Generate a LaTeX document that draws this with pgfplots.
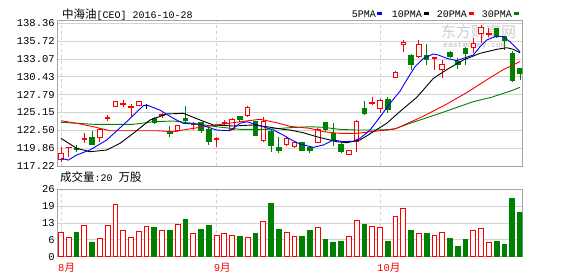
\documentclass[border=0pt]{standalone}
\usepackage{pgfplots}
\pgfplotsset{compat=1.18}
\usepackage{pgfplotstable}
\usepackage{fontspec}
\setmainfont{Liberation Mono}
\newfontfamily\cjk{Noto Sans CJK SC}
\definecolor{kred}{RGB}{255,0,0}
\definecolor{kgreen}{RGB}{0,128,0}
\definecolor{kblue}{RGB}{0,0,255}
\definecolor{gridc}{RGB}{210,210,210}
\definecolor{framec}{RGB}{165,165,165}
\definecolor{wm}{RGB}{205,205,205}

% i open high low close volume
\pgfplotstableread{
i open high low close vol
0 118.21 119.99 117.86 119.10 9.5
1 119.90 120.10 118.60 120.00 7.4
2 119.80 120.33 119.34 119.70 9.5
3 121.10 122.16 120.58 121.30 12.1
4 121.47 122.45 120.33 120.48 5.6
5 121.47 122.80 120.82 122.56 7.1
6 124.30 124.78 123.89 124.45 12.1
7 126.11 126.85 126.00 126.75 20.1
8 126.30 127.00 125.90 126.45 10.1
9 125.90 126.36 124.52 126.05 7.4
10 126.26 126.80 126.10 126.75 9.7
11 126.16 126.36 125.62 126.16 11.7
12 124.28 124.52 123.40 123.70 11.4
13 124.70 125.12 124.28 124.85 10.1
14 122.30 123.15 121.47 122.06 10.3
15 122.45 123.30 122.30 123.15 12.4
16 124.28 126.11 123.55 123.94 14.5
17 123.30 123.70 122.60 123.45 9.0
18 123.64 123.80 122.06 122.50 10.6
19 122.65 122.80 120.33 120.82 12.2
20 121.10 121.56 120.08 121.25 8.2
21 123.55 124.00 123.30 123.70 9.0
22 122.65 124.30 122.50 124.14 8.2
23 124.52 124.60 123.80 124.04 7.9
24 124.73 126.11 124.52 125.92 7.4
25 123.80 123.95 121.65 121.71 9.1
26 120.97 124.52 120.82 123.80 13.6
27 122.30 122.65 119.34 120.33 20.6
28 119.99 121.56 119.19 119.59 10.6
29 120.40 121.56 120.20 121.32 9.5
30 120.08 120.80 119.90 120.68 7.8
31 120.68 120.80 119.50 119.59 7.9
32 119.93 120.18 119.10 119.49 10.3
33 120.68 122.80 120.60 122.65 11.3
34 123.64 123.79 122.30 122.56 6.8
35 122.06 123.55 120.18 120.97 5.6
36 120.48 120.68 119.19 119.34 6.0
37 118.90 119.60 118.85 119.59 7.8
38 120.82 124.04 119.34 123.79 14.0
39 125.77 126.90 124.78 125.03 12.7
40 126.41 127.40 126.26 126.66 11.7
41 125.77 127.10 125.03 126.90 11.3
42 127.10 127.40 125.03 125.52 6.0
43 130.30 131.30 130.20 131.10 15.6
44 135.30 135.89 134.16 135.50 18.6
45 133.67 133.77 131.45 132.19 10.3
46 133.42 135.89 133.27 135.25 9.1
47 133.57 135.25 132.19 132.93 9.2
48 133.10 133.33 131.45 133.25 8.2
49 131.45 132.93 130.20 132.19 9.4
50 134.07 134.21 133.18 133.42 7.2
51 132.78 133.27 131.60 132.19 4.1
52 134.66 134.80 132.19 133.92 6.8
53 134.76 136.14 133.92 135.40 10.1
54 136.88 138.12 135.40 137.72 10.9
55 136.70 137.63 136.38 136.80 5.6
56 137.63 137.72 136.20 136.38 6.0
57 136.38 136.53 134.41 135.89 4.9
58 133.92 134.27 129.71 129.96 22.6
59 131.60 131.70 129.96 130.96 17.2
}\kdata

\pgfplotsset{
  kupw/.style={draw=kred, line width=1pt},
  kupb/.style={draw=kred, fill=white, line width=1pt},
  kdnw/.style={draw=kgreen, line width=1pt},
  kdnb/.style={draw=kgreen, fill=kgreen, line width=1pt},
  kdjw/.style={draw=black, line width=1pt},
  kdjb/.style={draw=black, line width=1pt},
  kupv/.style={ybar, bar width=4.8pt, bar shift=0pt, draw=kred, fill=white, line width=1pt},
  kdjv/.style={kupv},
  kdnv/.style={ybar, bar width=5.8pt, bar shift=0pt, draw=none, fill=kgreen},
  chart/.style={scale only axis, width=464.4pt, xmin=-0.4, xmax=59.29,
    axis line style={framec, line width=1pt}, tick style={draw=none},
    xmajorgrids, ymajorgrids,
    x grid style={gridc, dashed, line width=1pt},
    y grid style={gridc, line width=1pt},
    xtick={0,20,41},
    ticklabel style={font=\fontsize{10.5}{12}\selectfont},
    yticklabel style={anchor=east, inner sep=0pt, xshift=-3pt},
    /pgf/number format/assume math mode=true},
}

\newcommand\kclass{%
  \ifdim\kC pt<\kO pt \def\kS{dn}\else
    \ifdim\kC pt=\kO pt \def\kS{dj}\else \def\kS{up}\fi
  \fi}
\newcommand\kread{%
  \pgfplotstablegetelem{\kr}{i}\of\kdata\edef\kX{\pgfplotsretval}%
  \pgfplotstablegetelem{\kr}{open}\of\kdata\edef\kO{\pgfplotsretval}%
  \pgfplotstablegetelem{\kr}{high}\of\kdata\edef\kH{\pgfplotsretval}%
  \pgfplotstablegetelem{\kr}{low}\of\kdata\edef\kL{\pgfplotsretval}%
  \pgfplotstablegetelem{\kr}{close}\of\kdata\edef\kC{\pgfplotsretval}%
  \pgfplotstablegetelem{\kr}{vol}\of\kdata\edef\kV{\pgfplotsretval}%
  \kclass}
\newcommand\kcandles{%
  \pgfplotstablegetrowsof{\kdata}%
  \pgfmathtruncatemacro\kN{\pgfplotsretval-1}%
  \pgfplotsforeachungrouped \kr in {0,...,\kN}{%
    \kread
    \pgfmathsetmacro\kXl{\kX-0.29}%
    \pgfmathsetmacro\kXr{\kX+0.29}%
    \edef\kcmd{%
      \noexpand\addplot[k\kS w] coordinates {(\kX,\kH) (\kX,\kL)};%
      \noexpand\addplot[k\kS b] coordinates {(\kXl,\kO) (\kXr,\kO) (\kXr,\kC) (\kXl,\kC)} -- cycle;%
    }%
    \kcmd
  }%
}
\newcommand\kvolumes{%
  \pgfplotstablegetrowsof{\kdata}%
  \pgfmathtruncatemacro\kN{\pgfplotsretval-1}%
  \pgfplotsforeachungrouped \kr in {0,...,\kN}{%
    \kread
    \edef\kcmd{\noexpand\addplot[k\kS v] coordinates {(\kX,\kV)};}%
    \kcmd
  }%
}

\begin{document}
\begin{tikzpicture}
\useasboundingbox (0pt,0pt) rectangle (578pt,276pt);

% watermark
\node[anchor=west, inner sep=0pt, text=wm, font=\cjk\fontsize{15}{15}\selectfont] at (441pt,244.5pt) {东方财富网};
\node[anchor=west, inner sep=0pt, text=wm, font=\fontsize{8}{8}\selectfont\bfseries] at (443pt,230.5pt) {eastmoney.com};

% price panel
\begin{axis}[chart, at={(57.9pt,110pt)}, anchor=south west, height=145pt,
  ymin=117.22, ymax=138.71,
  xticklabels={,,},
  ytick={117.22,119.8625,122.505,125.1475,127.79,130.4325,133.075,135.7175,138.36},
  yticklabels={117.22,119.86,122.50,125.15,127.79,130.43,133.07,135.72,138.36}]
\kcandles
% 30PMA
\addplot[kgreen, line width=0.9pt] coordinates {(0,123.7) (4.16,123.4) (9.29,123.4) (11.86,123.78) (14.43,123.89) (17.87,123.4) (20.01,123.04) (23.01,122.65) (26.44,122.65) (29.43,122.9) (32.0,123.04) (33.71,122.95) (35.86,122.65) (38.0,122.55) (40.58,122.55) (42.72,122.65) (44.86,123.55) (48.72,125.03) (53.0,126.76) (55.3,127.4) (57.7,128.3) (59,128.88)};
% 20PMA
\addplot[kred, line width=0.9pt] coordinates {(0,123.93) (2.02,123.55) (4.16,123.04) (6.3,122.45) (9.29,122.45) (12.3,122.45) (14.43,122.3) (16.15,122.65) (17.87,122.95) (20.01,123.3) (23.01,123.78) (25.57,124.14) (27.72,123.64) (29.43,123.1) (32.0,122.8) (33.71,122.3) (35.86,122.06) (38.0,122.06) (39.72,122.3) (41.86,122.55) (43.14,122.8) (46.57,124.6) (49.58,126.4) (52.15,128.1) (55.14,130.3) (56.85,131.5) (59,132.7)};
% 10PMA
\addplot[black, line width=0.9pt] coordinates {(0,121.32) (2.02,119.84) (3.73,119.34) (5.87,119.59) (7.58,120.58) (9.29,122.06) (11.44,124.04) (13.59,124.93) (15.72,125.03) (17.87,124.04) (19.58,123.3) (22.15,123.15) (24.72,123.3) (26.44,123.04) (28.57,122.65) (29.43,122.55) (31.14,122.15) (32.87,121.56) (35.44,120.82) (36.72,120.67) (38.43,121.07) (40.14,122.3) (41.86,123.55) (43.57,125.3) (45.72,127.4) (46.57,128.5) (47.85,130.2) (49.58,131.5) (51.71,132.93) (53.86,133.92) (56.0,134.51) (57.29,134.75) (58.14,134.51) (59,134.01)};
% 5PMA
\addplot[kblue, line width=0.9pt] coordinates {(0,118.36) (0.94,118.1) (2.02,118.85) (3.73,119.6) (5.87,121.07) (8.44,123.78) (10.58,126.16) (11.02,126.26) (12.72,125.5) (14.43,124.29) (15.72,123.55) (17.87,123.4) (18.73,123.04) (20.01,122.55) (21.72,122.45) (23.01,123.55) (23.87,123.78) (26.0,123.04) (27.29,122.55) (28.57,121.81) (29.43,121.2) (30.72,120.48) (32.43,119.99) (33.71,120.33) (35.0,121.07) (36.29,120.82) (37.58,120.9) (38.43,121.32) (39.72,122.55) (41.0,124.5) (42.29,126.51) (43.57,128.3) (44.43,129.97) (45.5,131.94) (46.57,133.18) (47.85,133.82) (48.5,133.67) (49.58,133.18) (50.86,132.83) (51.71,133.18) (53.0,133.67) (53.86,134.9) (54.72,135.89) (56.0,136.49) (56.85,136.38) (57.71,135.64) (59.0,134.16)};
\end{axis}

% volume panel
\begin{axis}[chart, at={(57.9pt,19.3pt)}, anchor=south west, height=67.4pt,
  ymin=0, ymax=26,
  ytick={0,6.5,13,19.5,26}, yticklabels={0,6,13,19,26},
  xticklabels={{8{\cjk 月}},{9{\cjk 月}},{10{\cjk 月}}},
  xticklabel style={anchor=west, inner sep=0pt, xshift=-3pt, yshift=-11pt, text=kred,
    font=\fontsize{10.5}{12}\selectfont}]
\kvolumes
\end{axis}

% title
\node[anchor=west, inner sep=0pt] at (62pt,261.5pt) {{\cjk\fontsize{11.5}{12}\selectfont 中海油}\fontsize{10}{12}\selectfont[CEO] 2016-10-28};
% legend
\begin{scope}[font=\fontsize{10}{12}\selectfont]
\node[anchor=west, inner sep=0pt] at (351.7pt,262pt) {5PMA};
\fill[kblue] (377.3pt,260.5pt) rectangle (382.3pt,263.5pt);
\node[anchor=west, inner sep=0pt] at (391.7pt,262pt) {10PMA};
\fill[black] (424pt,260.5pt) rectangle (429pt,263.5pt);
\node[anchor=west, inner sep=0pt] at (436.7pt,262pt) {20PMA};
\fill[kred] (469.3pt,260.5pt) rectangle (474.3pt,263.5pt);
\node[anchor=west, inner sep=0pt] at (481.7pt,262pt) {30PMA};
\fill[kgreen] (514pt,260.5pt) rectangle (519pt,263.5pt);
\end{scope}
% volume caption
\node[anchor=west, inner sep=0pt] at (60pt,98.5pt) {{\cjk\fontsize{11.5}{12}\selectfont 成交量}\fontsize{10}{12}\selectfont:20 {\cjk\fontsize{11.5}{12}\selectfont 万股}};
\end{tikzpicture}
\end{document}
